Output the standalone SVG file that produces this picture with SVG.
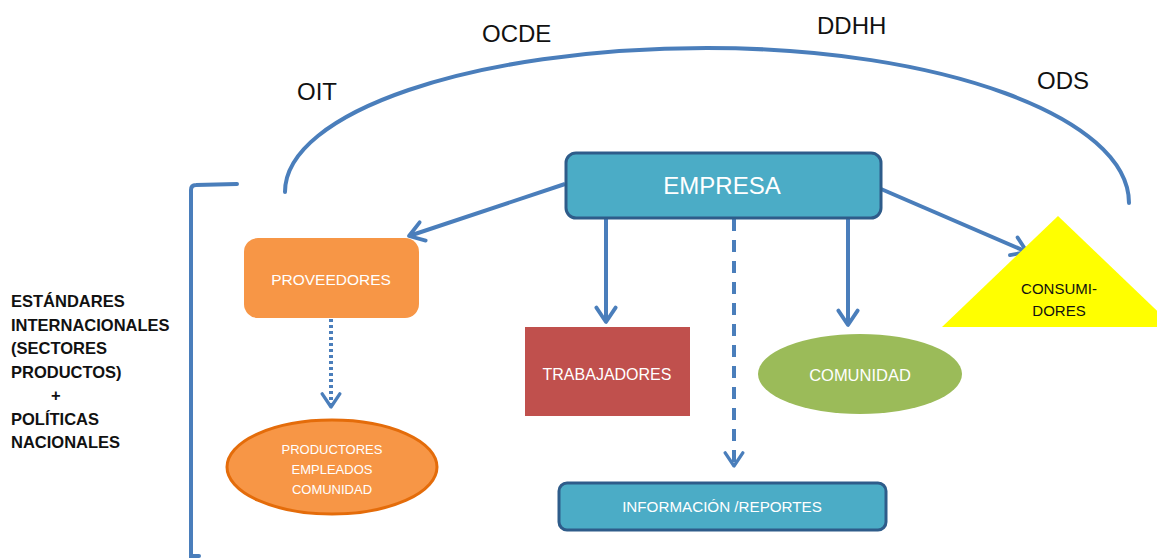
<svg xmlns="http://www.w3.org/2000/svg" width="1157" height="559" viewBox="0 0 1157 559">
<defs>
<style>
.ln{fill:none;stroke:#4A7EBB;stroke-width:4;stroke-linecap:round}
.ar{fill:none;stroke:#4A7EBB;stroke-width:4}
.lbl{font-family:"Liberation Sans",Arial,sans-serif;font-size:24px;fill:#111}
.wt{font-family:"Liberation Sans",Arial,sans-serif;fill:#fff;text-anchor:middle}
.side{font-family:"Liberation Sans",Arial,sans-serif;font-size:16.5px;font-weight:bold;fill:#111}
.blk{font-family:"Liberation Sans",Arial,sans-serif;font-size:15px;fill:#111;text-anchor:middle}
</style>
<marker id="ah" viewBox="0 0 20 20" refX="16" refY="10" markerWidth="6" markerHeight="6" markerUnits="strokeWidth" orient="auto">
<polyline points="4,2 16,10 4,18" fill="none" stroke="#4A7EBB" stroke-width="3.2" stroke-linecap="round" stroke-linejoin="round"/>
</marker>
<marker id="ahs" viewBox="0 0 20 20" refX="16" refY="10" markerWidth="5.5" markerHeight="5.5" markerUnits="strokeWidth" orient="auto">
<polyline points="4,2 16,10 4,18" fill="none" stroke="#4A7EBB" stroke-width="3" stroke-linecap="round" stroke-linejoin="round"/>
</marker>
</defs>
<rect width="1157" height="559" fill="#fff"/>

<g id="frame">
<path class="ln" d="M285,192 C285,112 474,48 707,48 C940,48 1129,117 1129,203"/>
<path class="ln" d="M237,184 L196,185 Q191,185 191,190 L191,556 L199,556"/>
</g>

<g id="labels">
<text class="lbl" x="297" y="100">OIT</text>
<text class="lbl" x="482" y="42">OCDE</text>
<text class="lbl" x="817" y="34">DDHH</text>
<text class="lbl" x="1037" y="89">ODS</text>
<g id="side-text" class="side">
<text x="11" y="307">ESTÁNDARES</text>
<text x="11" y="331">INTERNACIONALES</text>
<text x="11" y="354">(SECTORES</text>
<text x="11" y="378">PRODUCTOS)</text>
<text x="51" y="401">+</text>
<text x="11" y="425">POLÍTICAS</text>
<text x="11" y="448">NACIONALES</text>
</g>
</g>

<g id="connectors">
<line class="ar" x1="565" y1="184" x2="409" y2="236" marker-end="url(#ah)"/>
<line class="ar" x1="606" y1="219" x2="606" y2="322" marker-end="url(#ah)"/>
<line class="ar" x1="848" y1="219" x2="848" y2="325" marker-end="url(#ah)"/>
<line class="ar" x1="881" y1="189" x2="1027" y2="252" marker-end="url(#ah)"/>
<line class="ar" x1="734" y1="219" x2="734" y2="466" stroke-width="3.5" stroke-dasharray="12,9" marker-end="url(#ahs)"/>
<line class="ar" x1="331" y1="319" x2="331" y2="407" stroke-width="3.5" stroke-dasharray="3,3" marker-end="url(#ahs)"/>
</g>

<g id="empresa">
<rect x="566" y="153" width="315" height="65" rx="10" fill="#4BACC6" stroke="#2E5C8A" stroke-width="3"/>
<text class="wt" x="722" y="194" font-size="24">EMPRESA</text>
</g>

<g id="proveedores">
<rect x="244" y="238" width="175" height="80" rx="14" fill="#F79646"/>
<text class="wt" x="331" y="285" font-size="15.5">PROVEEDORES</text>
</g>

<g id="productores">
<ellipse cx="332" cy="467" rx="105" ry="47" fill="#F79646" stroke="#E46C0A" stroke-width="3"/>
<text class="wt" x="332" y="454" font-size="13">PRODUCTORES</text>
<text class="wt" x="332" y="474" font-size="13">EMPLEADOS</text>
<text class="wt" x="332" y="494" font-size="13">COMUNIDAD</text>
</g>

<g id="trabajadores">
<rect x="525" y="327" width="165" height="89" fill="#C0504D"/>
<text class="wt" x="607" y="380" font-size="16">TRABAJADORES</text>
</g>

<g id="comunidad">
<ellipse cx="860" cy="374" rx="102" ry="40" fill="#9BBB59"/>
<text class="wt" x="860" y="381" font-size="16.5">COMUNIDAD</text>
</g>

<g id="consumidores">
<polygon points="1058,216 942,327 1174,327" fill="#FFFF00"/>
<text class="blk" x="1059" y="294">CONSUMI-</text>
<text class="blk" x="1059" y="316">DORES</text>
</g>

<g id="informacion">
<rect x="559" y="483" width="327" height="47" rx="8" fill="#4BACC6" stroke="#2E5C8A" stroke-width="3"/>
<text class="wt" x="722" y="512" font-size="15.2">INFORMACIÓN /REPORTES</text>
</g>
</svg>
